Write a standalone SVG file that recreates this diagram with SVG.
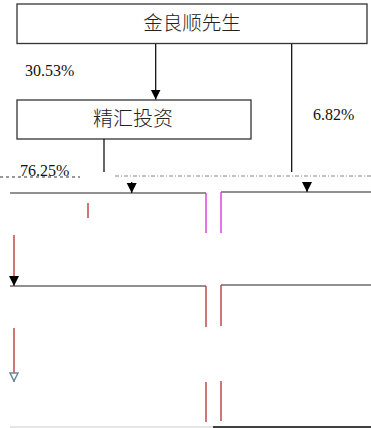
<svg xmlns="http://www.w3.org/2000/svg" width="371" height="428" viewBox="0 0 371 428">
<defs>
<marker id="arr" viewBox="0 0 10 10" refX="10" refY="5" markerWidth="10" markerHeight="11" markerUnits="userSpaceOnUse" orient="auto"><path d="M0,0 L10,5 L0,10 Z" fill="#000"/></marker>
<marker id="arrh" viewBox="0 0 10 10" refX="10" refY="5" markerWidth="10" markerHeight="10" markerUnits="userSpaceOnUse" orient="auto"><path d="M1,1 L9,5 L1,9 Z" fill="#fff" stroke="#6a8a9a" stroke-width="1.5"/></marker>
</defs>
<style>
.box{fill:#fff;stroke:#333;stroke-width:1.3}
.t{font-family:"Noto Sans CJK SC","Noto Sans CJK JP",sans-serif;font-size:19.5px;font-weight:300;fill:#222;text-anchor:middle}
.p{font-family:"Liberation Serif",serif;font-size:16px;fill:#111}
.c{stroke:#000;stroke-width:1.2;fill:none}
.m{stroke:#e040e0;stroke-width:1.5;fill:none}
.r{stroke:#c04848;stroke-width:1.5;fill:none}
.h{stroke:#222;stroke-width:1.2;fill:none}
</style>
<g id="node-jin">
<rect class="box" x="17" y="4" width="350" height="39.5"/>
<text class="t" x="192" y="30">金良顺先生</text>
</g>
<g id="node-jinghui">
<rect class="box" x="17" y="100" width="234" height="39"/>
<text class="t" x="133" y="126" style="font-size:20px">精汇投资</text>
</g>
<g id="labels">
<text class="p" x="25" y="76">30.53%</text>
<text class="p" x="313" y="120">6.82%</text>
<text class="p" x="20" y="176">76.25%</text>
</g>
<g id="connectors">
<line class="c" x1="155.7" y1="44" x2="155.7" y2="99.5" marker-end="url(#arr)"/>
<line class="c" x1="291.7" y1="44" x2="291.7" y2="172"/>
<line class="c" x1="104" y1="139" x2="104" y2="172"/>
<line x1="0" y1="177" x2="80" y2="177" stroke="#333" stroke-width="1" stroke-dasharray="3,3"/>
<line x1="115" y1="176" x2="371" y2="176" stroke="#555" stroke-width="1" stroke-dasharray="4,2,1,2" opacity="0.7"/>
<line class="c" x1="131.7" y1="182" x2="131.7" y2="193" marker-end="url(#arr)"/>
<line class="c" x1="307" y1="182" x2="307" y2="192" marker-end="url(#arr)"/>
<line class="r" x1="14" y1="235" x2="14" y2="286" marker-end="url(#arr)"/>
<line class="r" x1="14" y1="328" x2="14" y2="382" marker-end="url(#arrh)"/>
</g>
<g id="node-lower-left-1">
<path class="h" d="M10,193 H206"/>
<path class="m" d="M206,193 V233"/>
<path class="r" d="M88,203 V218"/>
</g>
<g id="node-lower-right-1">
<path class="h" d="M221,192 H371"/>
<path class="m" d="M221,192 V233"/>
</g>
<g id="node-lower-left-2">
<path class="h" d="M10,286 H206"/>
<path class="r" d="M206,286 V327"/>
</g>
<g id="node-lower-right-2">
<path class="h" d="M221,285 H371"/>
<path class="r" d="M221,285 V326"/>
</g>
<g id="node-lower-3">
<path class="r" d="M206,382 V422"/>
<path class="r" d="M221,381 V421"/>
<path d="M10,427 H213" stroke="#ccc" stroke-width="1.2"/>
<path d="M213,427 H371" stroke="#000" stroke-width="1.4"/>
</g>
</svg>
